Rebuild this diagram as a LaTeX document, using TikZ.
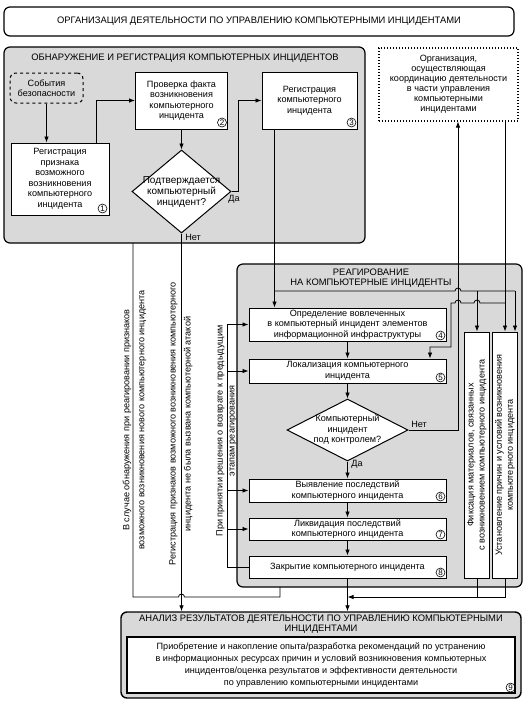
\documentclass[tikz,border=0pt]{standalone}
\usepackage{fontspec}
\setmainfont{Liberation Sans}
\usetikzlibrary{arrows.meta,shapes.geometric,calc}
\begin{document}
\begin{tikzpicture}[x=1pt,y=-1pt,
  font=\fontsize{9.1}{10.5}\selectfont,
  region/.style={draw, line width=1.2pt, rounded corners=6pt, fill=black!15, inner sep=0pt},
  box/.style={draw, line width=1pt, fill=white, align=center, inner sep=0pt},
  dia/.style={draw, line width=1pt, fill=white, diamond, inner sep=0pt},
  num/.style={circle, draw, line width=0.6pt, inner sep=0pt, minimum size=9pt, font=\fontsize{8}{8}\selectfont},
  conn/.style={line width=0.8pt},
  arr/.style={conn, -{Latex[length=6pt,width=4.5pt]}},
  lbl/.style={align=center, inner sep=0pt},
  ttlfont/.style={font=\fontsize{9.4}{10}\selectfont},
]
\useasboundingbox (0,0) rectangle (527,705);

% regions
\node[region, fill=white, minimum width=510pt, minimum height=29pt] (ttl) at (259,21.5) {};
\node[lbl, ttlfont] at (ttl) {ОРГАНИЗАЦИЯ ДЕЯТЕЛЬНОСТИ ПО УПРАВЛЕНИЮ КОМПЬЮТЕРНЫМИ ИНЦИДЕНТАМИ};
\node[region, minimum width=361pt, minimum height=196pt] (det) at (184.5,145) {};
\node[lbl, ttlfont] (dett) at (185,58) {ОБНАРУЖЕНИЕ И РЕГИСТРАЦИЯ КОМПЬЮТЕРНЫХ ИНЦИДЕНТОВ};
\node[region, minimum width=285pt, minimum height=323pt] (rea) at (379.5,425.5) {};
\node[lbl, ttlfont] (reat) at (371,278) {РЕАГИРОВАНИЕ\\НА КОМПЬЮТЕРНЫЕ ИНЦИДЕНТЫ};
\node[region, line width=1.4pt, minimum width=400pt, minimum height=86pt] (an) at (321,655) {};
\node[lbl, ttlfont] (ant) at (321,624.5) {АНАЛИЗ РЕЗУЛЬТАТОВ ДЕЯТЕЛЬНОСТИ ПО УПРАВЛЕНИЮ КОМПЬЮТЕРНЫМИ\\ИНЦИДЕНТАМИ};

% detection boxes
\node[box, fill=none, dashed, rounded corners=6pt, minimum width=73pt, minimum height=30pt] (ev) at (46.5,88) {События\\безопасности};
\node[box, minimum width=98pt, minimum height=72pt] (b1) at (60,179) {Регистрация\\признака\\возможного\\возникновения\\компьютерного\\инцидента};
\node[box, minimum width=92pt, minimum height=57pt] (b2) at (181.5,100.5) {Проверка факта\\возникновения\\компьютерного\\инцидента};
\node[dia, minimum width=99pt, minimum height=83pt] (d1) at (181.5,191.5) {};
\node[lbl, font=\fontsize{10}{11}\selectfont] at ([yshift=-1pt]d1.center) {Подтверждается\\компьютерный\\инцидент?};
\node[box, minimum width=95pt, minimum height=57pt] (b3) at (309.5,100.5) {Регистрация\\компьютерного\\инцидента};
\node[box, dotted, line width=1.1pt, font=\fontsize{9.1}{10}\selectfont, minimum width=139pt, minimum height=73pt] (org) at (448.5,84.5) {Организация,\\осуществляющая\\координацию деятельности\\в части управления\\компьютерными\\инцидентами};

% reaction boxes
\node[box, minimum width=197pt, minimum height=33pt] (b4) at (347.5,324.5) {Определение вовлеченных\\в компьютерный инцидент элементов\\информационной инфраструктуры};
\node[box, minimum width=197pt, minimum height=24pt] (b5) at (347.5,371) {Локализация компьютерного\\инцидента};
\node[dia, minimum width=121pt, minimum height=62pt] (d2) at (347.5,430) {};
\node[lbl] at (d2) {Компьютерный\\инцидент\\под контролем?};
\node[box, minimum width=197pt, minimum height=23pt] (b6) at (347.5,490.5) {Выявление последствий\\компьютерного инцидента};
\node[box, minimum width=197pt, minimum height=22pt] (b7) at (347.5,529) {Ликвидация последствий\\компьютерного инцидента};
\node[box, minimum width=197pt, minimum height=22pt] (b8) at (347.5,567) {Закрытие компьютерного инцидента};
\node[box, minimum width=25pt, minimum height=246pt] (fx) at (477,455) {};
\node[lbl, rotate=90, font=\fontsize{9.1}{11}\selectfont] at (fx) {Фиксация материалов, связанных\\с возникновением компьютерного инцидента};
\node[box, minimum width=25pt, minimum height=246pt] (us) at (505,455) {};
\node[lbl, rotate=90, font=\fontsize{9.1}{11}\selectfont] at (us) {Установление причин и условий возникновения\\компьютерного инцидента};

% analysis inner
\node[box, line width=1.1pt, font=\fontsize{9.1}{12}\selectfont, minimum width=388pt, minimum height=56pt] (b9) at (321,665) {Приобретение и накопление опыта/разработка рекомендаций по устранению\\в информационных ресурсах причин и условий возникновения компьютерных\\инцидентов/оценка результатов и эффективности деятельности\\по управлению компьютерными инцидентами};

% numbers
\node[num] at ([xshift=-7pt,yshift=7pt]b1.south east) {1};
\node[num] at ([xshift=-6pt,yshift=7pt]b2.south east) {2};
\node[num] at ([xshift=-6pt,yshift=7pt]b3.south east) {3};
\node[num] at ([xshift=-6pt,yshift=6pt]b4.south east) {4};
\node[num] at ([xshift=-6pt,yshift=6pt]b5.south east) {5};
\node[num] at ([xshift=-6pt,yshift=6pt]b6.south east) {6};
\node[num] at ([xshift=-6pt,yshift=6pt]b7.south east) {7};
\node[num] at ([xshift=-6pt,yshift=6pt]b8.south east) {8};
\node[num] at ([xshift=-5pt,yshift=6pt]b9.south east) {9};

% detection connectors
\draw[arr] (ev.south) -- (ev.south |- b1.north);
\coordinate (c1) at ($(b1.north east)+(-13,0)$);
\draw[arr] (c1) |- (b2.west);
\draw[arr] (b2.south) -- (d1.north);
\draw[arr] (d1.east) -- ++(7,0) |- (b3.west);
\node[lbl] at (234,199) {Да};
\node[lbl] at (193,237.5) {Нет};

% box 3 down and branches
\coordinate (c3) at ($(b3.south west)+(13,0)$);
\coordinate (j1) at (275,291);
\coordinate (j2) at (515,291);
\draw[arr] (c3) -- (c3 |- b4.north);
\draw[conn] (j1) -- (455,291) arc[start angle=180,end angle=0,radius=3pt] -- (j2);
\draw[arr] (j2) -- (j2 |- us.north);
\draw[arr] (fx.north |- j1) -- (fx.north);

% organisation lines
\coordinate (k) at (458,430);
\draw[arr] (d2.east) -- (k) -- (k |- org.south);
\node[lbl] at (419,424) {Нет};
\draw[arr] (org.south -| us.north) -- (us.north);
\coordinate (m1) at (505,303);
\coordinate (m2) at (451,347);
\coordinate (m3) at (430,347);
\draw[arr] (m1) -- (480,303) arc[start angle=0,end angle=180,radius=3pt] -- (461,303) arc[start angle=0,end angle=180,radius=3pt] -- (m2 |- m1) -- (m2) -- (m3) -- (m3 |- b5.north);

% reaction chain
\draw[arr] (b4.south) -- (b5.north);
\draw[arr] (b5.south) -- (d2.north);
\draw[arr] (d2.south) -- (b6.north);
\node[lbl] at (357,464) {Да};
\draw[arr] (b6.south) -- (b7.north);
\draw[arr] (b7.south) -- (b8.north);

% return lines
\coordinate (r) at (227,324.5);
\draw[conn] (b8.west) -- (b8.west -| r) -- (r);
\foreach \n in {b4,b5,b6,b7} \draw[arr] (\n.west -| r) -- (\n.west);

% bottom connectors
\coordinate (p1) at (133,243);
\coordinate (p2) at (280,587);
\coordinate (q) at (347.5,597);
\draw[arr] (d1.south) -- (d1.south |- an.north);
\draw[arr] (b8.south) -- (b8.south |- an.north);
\draw[conn] (p1) -- (133,597) -- (178.5,597) arc[start angle=180,end angle=0,radius=3pt] -- (p2 |- q) -- (p2);
\draw[conn] (fx.south) -- (fx.south |- q);
\draw[conn] (us.south) -- (us.south |- q) -- (fx.south |- q);
\draw[arr] (fx.south |- q) -- (q);

% rotated labels
\node[lbl, rotate=90, font=\fontsize{9.1}{15}\selectfont] at (134.5,420) {В случае обнаружения при реагировании признаков\\возможного возникновения нового компьютерного инцидента};
\node[lbl, rotate=90, font=\fontsize{9.1}{15}\selectfont] at (181,424) {Регистрация признаков возможного возникновения компьютерного\\инцидента не была вызвана компьютерной атакой};
\node[lbl, rotate=90, font=\fontsize{9.1}{12}\selectfont] at (226.5,431) {При принятии решения о возврате к предыдущим\\этапам реагирования};
\end{tikzpicture}
\end{document}
